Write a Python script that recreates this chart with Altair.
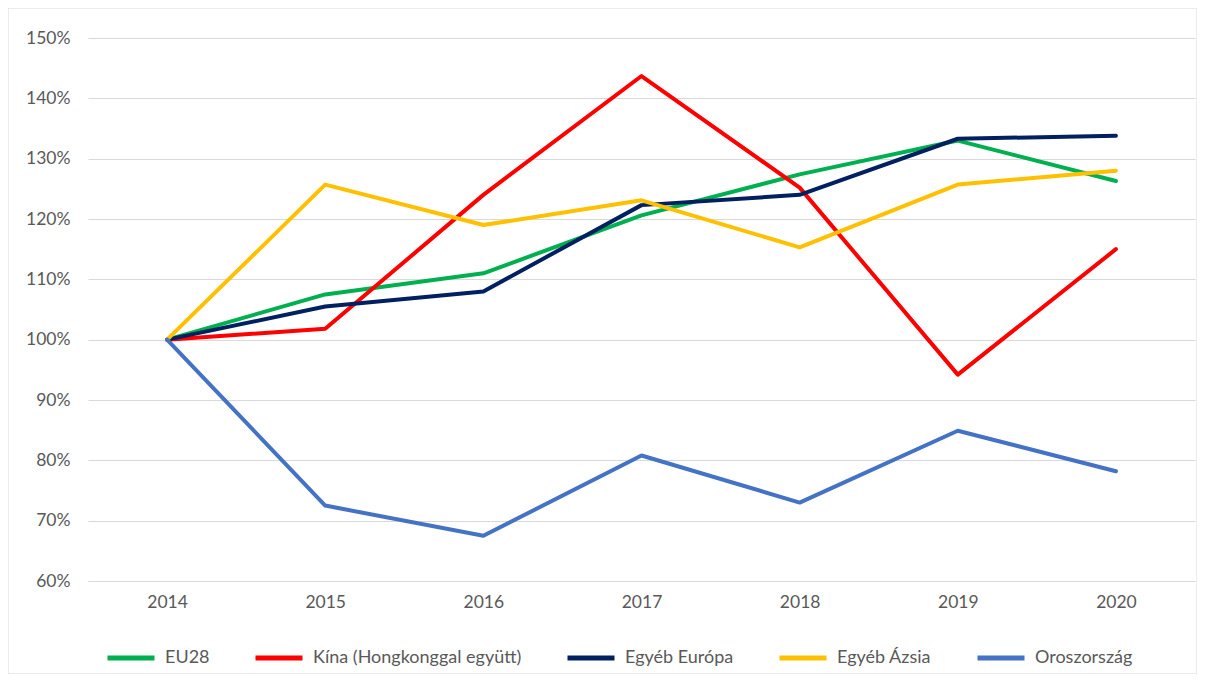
import altair as alt
import pandas as pd

years = ["2014", "2015", "2016", "2017", "2018", "2019", "2020"]
series = ["EU28", "Kína (Hongkonggal együtt)", "Egyéb Európa", "Egyéb Ázsia", "Oroszország"]
colors = ["#00B050", "#FF0000", "#002060", "#FFC000", "#4472C4"]

eu28 = [1.00, 1.075, 1.110, 1.206, 1.274, 1.330, 1.263]
kina = [1.00, 1.018, 1.240, 1.437, 1.252, 0.942, 1.150]
egyeb_europa = [1.00, 1.055, 1.080, 1.223, 1.240, 1.333, 1.338]
egyeb_azsia = [1.00, 1.257, 1.190, 1.231, 1.153, 1.257, 1.280]
oroszorszag = [1.00, 0.725, 0.675, 0.808, 0.730, 0.849, 0.782]

values = [eu28, kina, egyeb_europa, egyeb_azsia, oroszorszag]
rows = []
for si, (name, vals) in enumerate(zip(series, values)):
    for y, v in zip(years, vals):
        rows.append({"year": y, "series": name, "value": v, "ord": si})
df = pd.DataFrame(rows)

FONT = "Lato"
LABEL = "#595959"
FS = 17.5

frame = alt.Chart(pd.DataFrame({"a": [0]})).mark_rect(
    fill=None, stroke="#d9d9d9", strokeWidth=1
).encode(
    x=alt.value(-80), x2=alt.value(1109), y=alt.value(-30), y2=alt.value(636)
)

lines = alt.Chart(df).mark_line(strokeWidth=4, strokeCap="round", strokeJoin="round").encode(
    x=alt.X("year:O", sort=years, title=None,
            axis=alt.Axis(labelAngle=0, ticks=False, domain=True, domainColor="#d9d9d9",
                          grid=False,
                          labelPadding=12, labelFontSize=FS, labelColor=LABEL, labelFont=FONT)),
    y=alt.Y("value:Q", title=None,
            scale=alt.Scale(domain=[0.6, 1.5], nice=False, zero=False),
            axis=alt.Axis(format=".0%", values=[0.6 + 0.1 * i for i in range(10)],
                          ticks=False, domain=False, grid=True, gridColor="#d9d9d9",
                          labelPadding=18, labelFontSize=FS, labelColor=LABEL, labelFont=FONT)),
    color=alt.Color("series:N", sort=series,
                    scale=alt.Scale(domain=series, range=colors),
                    legend=alt.Legend(title=None, orient="none", direction="horizontal",
                                      legendX=17, legendY=594,
                                      symbolType="stroke", symbolStrokeWidth=5, symbolSize=2209,
                                      labelFontSize=18, labelColor=LABEL, labelFont=FONT,
                                      labelLimit=0,
                                      columnPadding=35, symbolOffset=0, labelOffset=8)),
    order=alt.Order("ord:Q"),
    detail="series:N",
)

chart = alt.layer(frame, lines).properties(
    width=1107, height=543,
    autosize=alt.AutoSizeParams(type="none"),
    padding={"left": 80, "top": 30, "right": 2, "bottom": 93},
).configure_view(stroke=None)

chart.save("out.html", embed_options={"renderer": "svg", "actions": False})
